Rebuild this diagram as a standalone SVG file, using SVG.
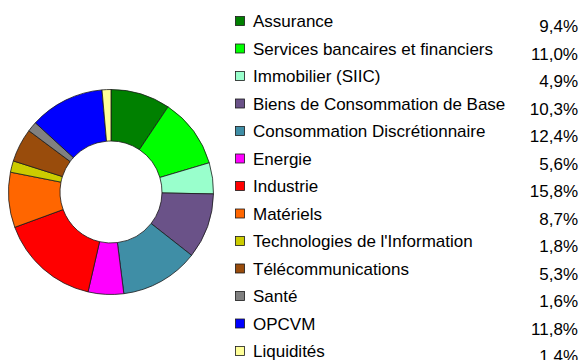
<svg xmlns="http://www.w3.org/2000/svg" width="580" height="360" viewBox="0 0 580 360">
<style>
.seg{stroke:#1a1a1a;stroke-width:0.8;stroke-linejoin:round}
.sw{stroke:#1a1a1a;stroke-width:0.8}
.lb{font-family:"Liberation Sans",Arial,sans-serif;font-size:17px;fill:#000}
.pc{font-family:"Liberation Sans",Arial,sans-serif;font-size:17px;fill:#000;text-anchor:end}
</style>
<rect width="580" height="360" fill="#fff"/>
<g id="donut">
<path id="s-assurance" class="seg" fill="#008000" d="M111,89.5 A102.5,102.5 0 0 1 168.07,106.86 L139.40,149.64 A51,51 0 0 0 111,141 Z"/>
<path id="s-services" class="seg" fill="#00FF00" d="M168.07,106.86 A102.5,102.5 0 0 1 209.25,162.78 L159.89,177.46 A51,51 0 0 0 139.40,149.64 Z"/>
<path id="s-immobilier" class="seg" fill="#99FFCC" d="M209.25,162.78 A102.5,102.5 0 0 1 213.48,193.93 L161.99,192.96 A51,51 0 0 0 159.89,177.46 Z"/>
<path id="s-biens" class="seg" fill="#6A5288" d="M213.48,193.93 A102.5,102.5 0 0 1 191.60,255.33 L151.10,223.51 A51,51 0 0 0 161.99,192.96 Z"/>
<path id="s-conso" class="seg" fill="#3F8EA6" d="M191.60,255.33 A102.5,102.5 0 0 1 123.84,293.69 L117.39,242.60 A51,51 0 0 0 151.10,223.51 Z"/>
<path id="s-energie" class="seg" fill="#FF00FF" d="M123.84,293.69 A102.5,102.5 0 0 1 88.01,291.89 L99.56,241.70 A51,51 0 0 0 117.39,242.60 Z"/>
<path id="s-industrie" class="seg" fill="#FF0000" d="M88.01,291.89 A102.5,102.5 0 0 1 14.78,227.32 L63.13,209.57 A51,51 0 0 0 99.56,241.70 Z"/>
<path id="s-materiels" class="seg" fill="#FF6600" d="M14.78,227.32 A102.5,102.5 0 0 1 10.44,172.16 L60.96,182.13 A51,51 0 0 0 63.13,209.57 Z"/>
<path id="s-techno" class="seg" fill="#CCCC00" d="M10.44,172.16 A102.5,102.5 0 0 1 13.32,160.93 L62.40,176.54 A51,51 0 0 0 60.96,182.13 Z"/>
<path id="s-telecom" class="seg" fill="#994C0C" d="M13.32,160.93 A102.5,102.5 0 0 1 28.85,130.72 L70.12,161.51 A51,51 0 0 0 62.40,176.54 Z"/>
<path id="s-sante" class="seg" fill="#808080" d="M28.85,130.72 A102.5,102.5 0 0 1 35.40,122.78 L73.38,157.56 A51,51 0 0 0 70.12,161.51 Z"/>
<path id="s-opcvm" class="seg" fill="#0000FF" d="M35.40,122.78 A102.5,102.5 0 0 1 102.00,89.90 L106.52,141.20 A51,51 0 0 0 73.38,157.56 Z"/>
<path id="s-liquidites" class="seg" fill="#FFFF99" d="M102.00,89.90 A102.5,102.5 0 0 1 111,89.5 L111,141 A51,51 0 0 0 106.52,141.20 Z"/>
</g>
<g id="legend">
<g id="l-assurance"><rect class="sw" x="235.5" y="16.5" width="9" height="9" fill="#008000"/><text class="lb" x="253" y="27">Assurance</text><text class="pc" x="578" y="32">9,4%</text></g>
<g id="l-services"><rect class="sw" x="235.5" y="44" width="9" height="9" fill="#00FF00"/><text class="lb" x="253" y="54.5">Services bancaires et financiers</text><text class="pc" x="578" y="59.5">11,0%</text></g>
<g id="l-immobilier"><rect class="sw" x="235.5" y="71.5" width="9" height="9" fill="#99FFCC"/><text class="lb" x="253" y="82">Immobilier (SIIC)</text><text class="pc" x="578" y="87">4,9%</text></g>
<g id="l-biens"><rect class="sw" x="235.5" y="99" width="9" height="9" fill="#6A5288"/><text class="lb" x="253" y="109.5">Biens de Consommation de Base</text><text class="pc" x="578" y="114.5">10,3%</text></g>
<g id="l-conso"><rect class="sw" x="235.5" y="126.5" width="9" height="9" fill="#3F8EA6"/><text class="lb" x="253" y="137">Consommation Discrétionnaire</text><text class="pc" x="578" y="142">12,4%</text></g>
<g id="l-energie"><rect class="sw" x="235.5" y="154" width="9" height="9" fill="#FF00FF"/><text class="lb" x="253" y="164.5">Energie</text><text class="pc" x="578" y="169.5">5,6%</text></g>
<g id="l-industrie"><rect class="sw" x="235.5" y="181.5" width="9" height="9" fill="#FF0000"/><text class="lb" x="253" y="192">Industrie</text><text class="pc" x="578" y="197">15,8%</text></g>
<g id="l-materiels"><rect class="sw" x="235.5" y="209" width="9" height="9" fill="#FF6600"/><text class="lb" x="253" y="219.5">Matériels</text><text class="pc" x="578" y="224.5">8,7%</text></g>
<g id="l-techno"><rect class="sw" x="235.5" y="236.5" width="9" height="9" fill="#CCCC00"/><text class="lb" x="253" y="247">Technologies de l'Information</text><text class="pc" x="578" y="252">1,8%</text></g>
<g id="l-telecom"><rect class="sw" x="235.5" y="264" width="9" height="9" fill="#994C0C"/><text class="lb" x="253" y="274.5">Télécommunications</text><text class="pc" x="578" y="279.5">5,3%</text></g>
<g id="l-sante"><rect class="sw" x="235.5" y="291.5" width="9" height="9" fill="#808080"/><text class="lb" x="253" y="302">Santé</text><text class="pc" x="578" y="307">1,6%</text></g>
<g id="l-opcvm"><rect class="sw" x="235.5" y="319" width="9" height="9" fill="#0000FF"/><text class="lb" x="253" y="329.5">OPCVM</text><text class="pc" x="578" y="334.5">11,8%</text></g>
<g id="l-liquidites"><rect class="sw" x="235.5" y="346.5" width="9" height="9" fill="#FFFF99"/><text class="lb" x="253" y="357">Liquidités</text><text class="pc" x="578" y="362">1,4%</text></g>
</g>
</svg>
